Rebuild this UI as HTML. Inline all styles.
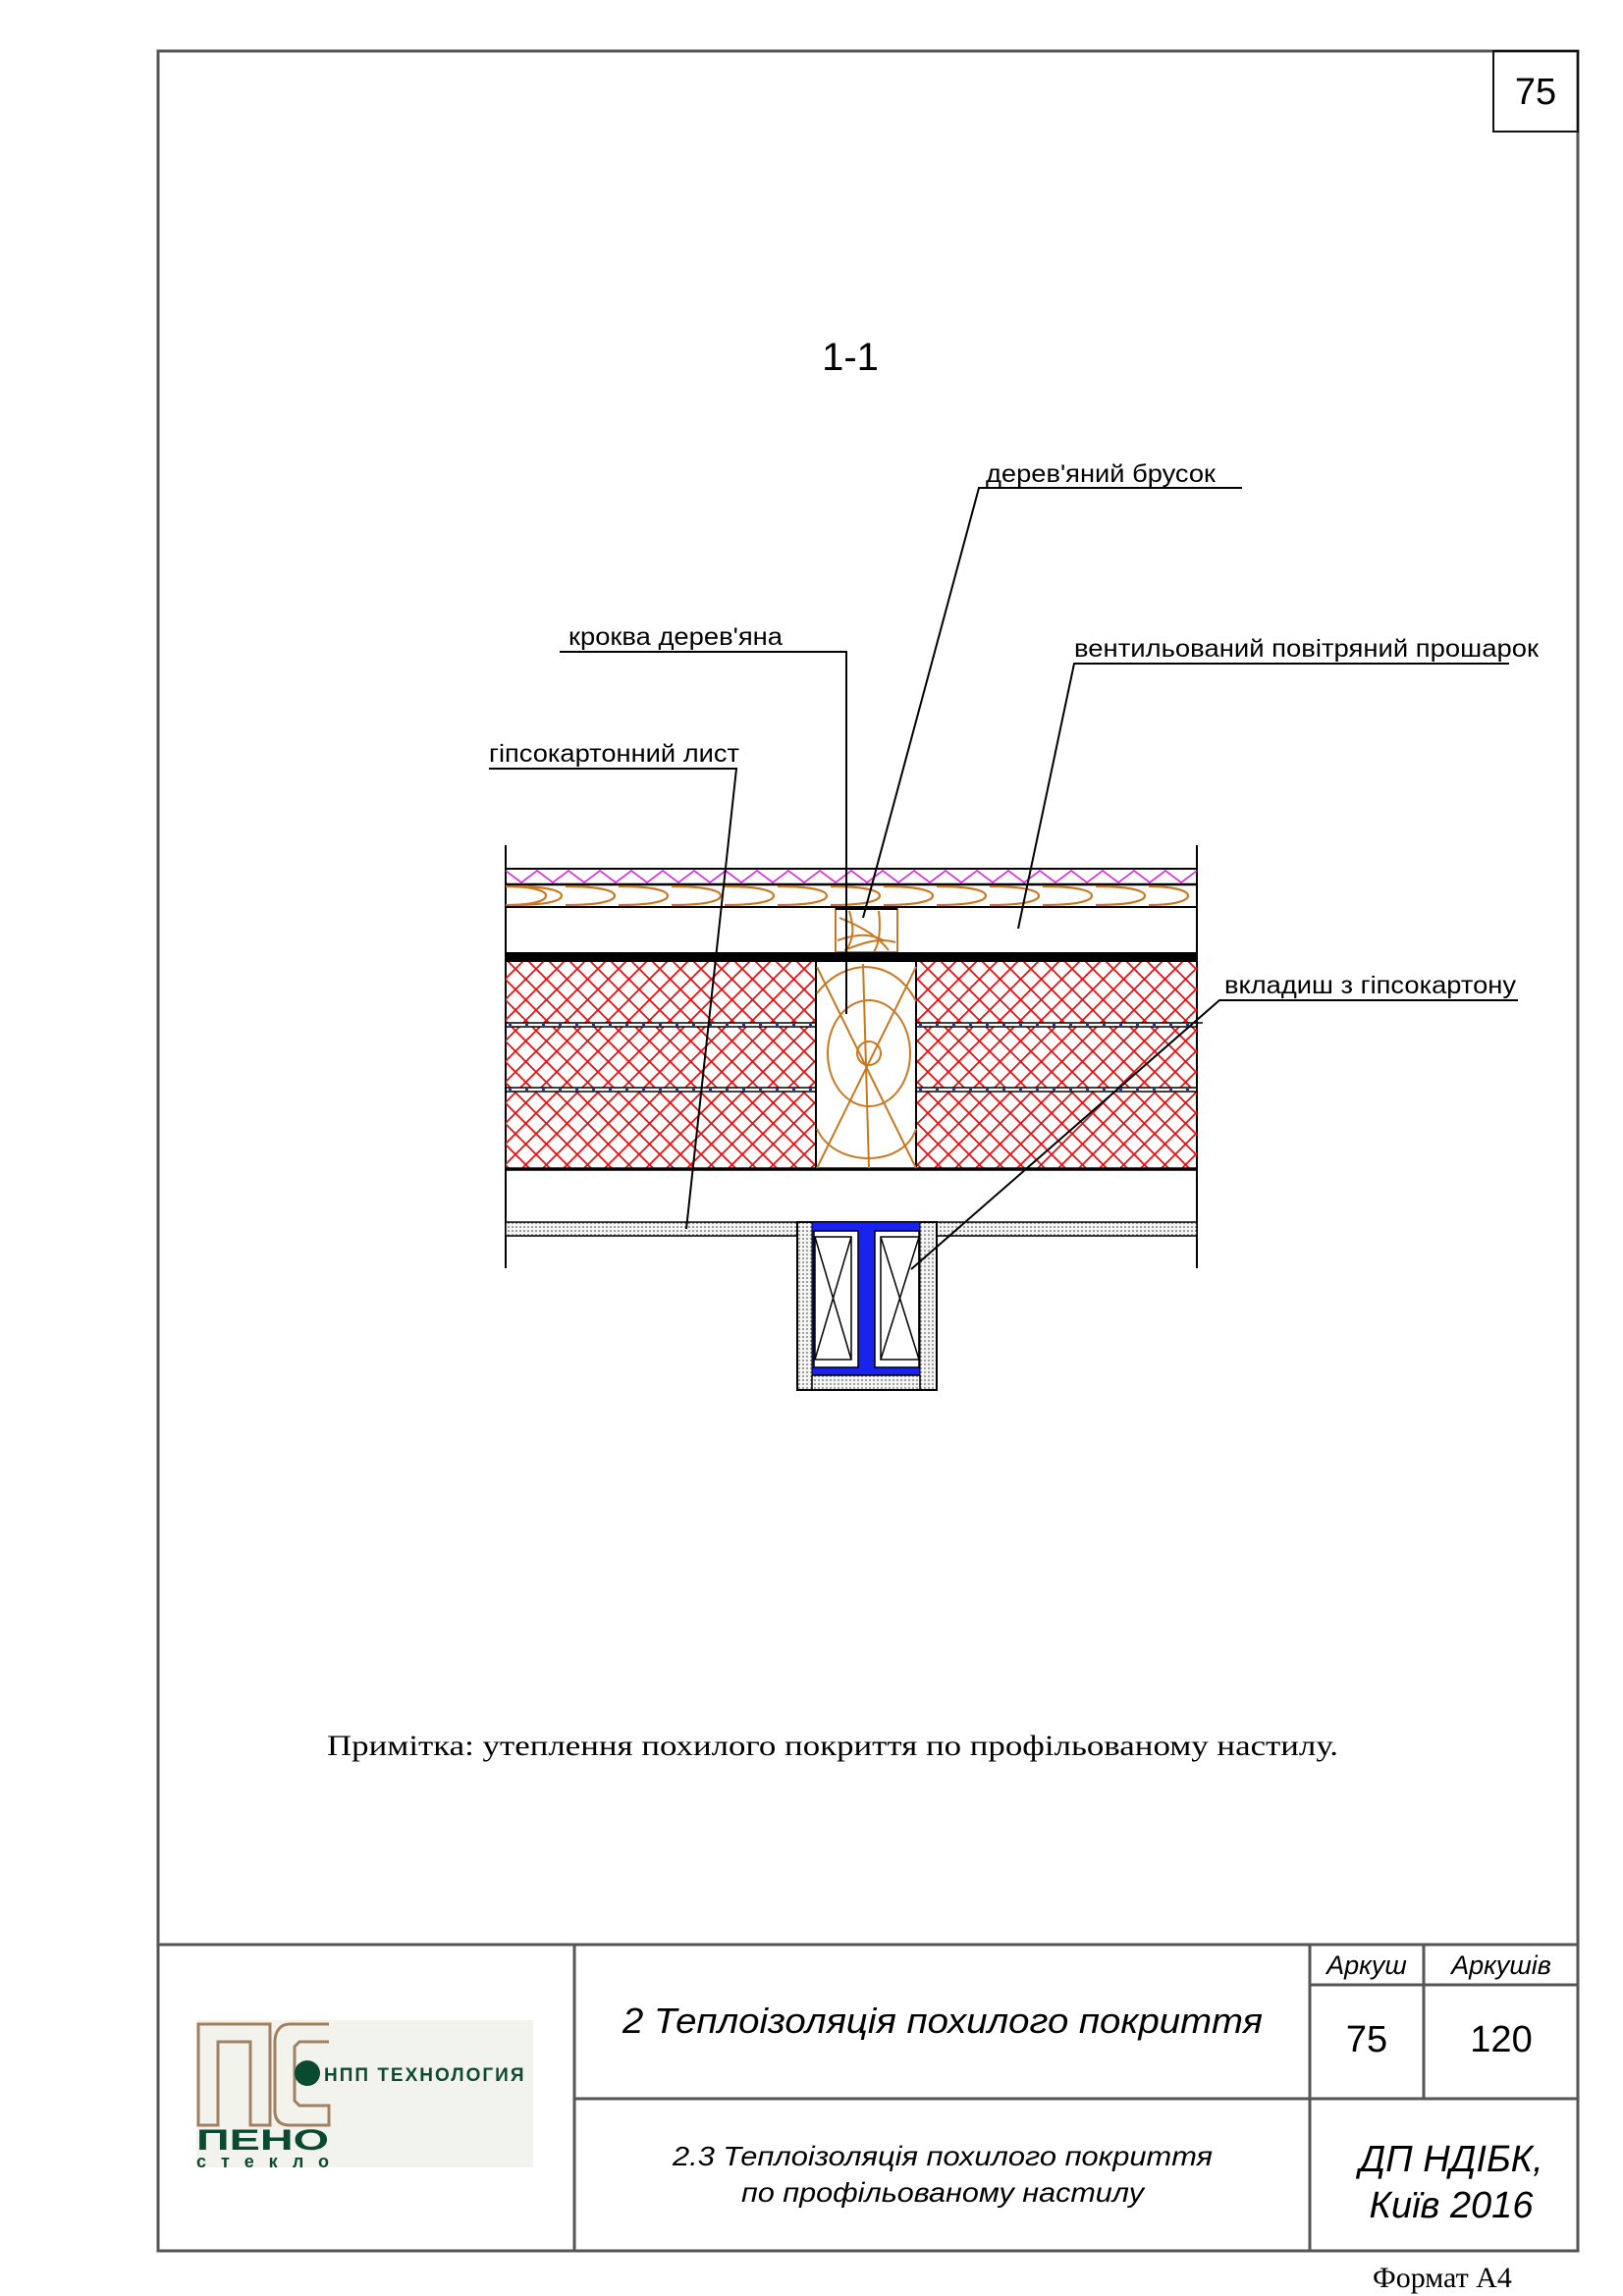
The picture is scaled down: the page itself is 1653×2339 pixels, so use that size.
<!DOCTYPE html>
<html><head><meta charset="utf-8"><style>
html,body{margin:0;padding:0;background:#fff}
svg{display:block}
</style></head><body>
<svg width="1653" height="2339" viewBox="0 0 1653 2339" xmlns="http://www.w3.org/2000/svg" font-family="Liberation Sans, sans-serif">
<defs>
<pattern id="hatch" width="21" height="21" patternUnits="userSpaceOnUse">
<path d="M0,0 L21,21 M21,0 L0,21" stroke="#e81010" stroke-width="1.8"/>
</pattern>
<pattern id="dots" width="4" height="4" patternUnits="userSpaceOnUse">
<rect width="4" height="4" fill="#f4f4f4"/>
<circle cx="2" cy="2" r="0.9" fill="#666"/>
</pattern>
</defs>
<rect width="1653" height="2339" fill="#fff"/>
<rect x="161" y="52" width="1446" height="2241" fill="none" stroke="#555" stroke-width="3"/>
<rect x="1521" y="52" width="86" height="82" fill="none" stroke="#111" stroke-width="2"/>
<text x="1564" y="106" font-size="38" text-anchor="middle">75</text>

<text x="866" y="377" font-size="40" text-anchor="middle">1-1</text>

<g>
<line x1="515" y1="861" x2="515" y2="1292" stroke="#000" stroke-width="2"/>
<line x1="1219" y1="861" x2="1219" y2="1292" stroke="#000" stroke-width="2"/>
<line x1="515" y1="885" x2="1219" y2="885" stroke="#000" stroke-width="2"/>
<path d="M515,887 L531,899 L547,887 L563,899 L579,887 L595,899 L611,887 L627,899 L643,887 L659,899 L675,887 L691,899 L707,887 L723,899 L739,887 L755,899 L771,887 L787,899 L803,887 L819,899 L835,887 L851,899 L867,887 L883,899 L899,887 L915,899 L931,887 L947,899 L963,887 L979,899 L995,887 L1011,899 L1027,887 L1043,899 L1059,887 L1075,899 L1091,887 L1107,899 L1123,887 L1139,899 L1155,887 L1171,899 L1187,887 L1203,899 L1219,887" fill="none" stroke="#dd22dd" stroke-width="1.6"/>
<line x1="515" y1="901" x2="1219" y2="901" stroke="#000" stroke-width="2.5"/>
<g fill="none" stroke="#c87820" stroke-width="2.2">
<path d="M515,903 C545,903 556,908 556,912.5 C556,917 545,922 515,922"/>
<path d="M522,903 C560,903 572,908 572,912.5 C572,917 560,922 522,922"/>
<path d="M576,903 C614,903 626,908 626,912.5 C626,917 614,922 576,922"/>
<path d="M630,903 C668,903 680,908 680,912.5 C680,917 668,922 630,922"/>
<path d="M684,903 C722,903 734,908 734,912.5 C734,917 722,922 684,922"/>
<path d="M738,903 C776,903 788,908 788,912.5 C788,917 776,922 738,922"/>
<path d="M792,903 C830,903 842,908 842,912.5 C842,917 830,922 792,922"/>
<path d="M846,903 C884,903 896,908 896,912.5 C896,917 884,922 846,922"/>
<path d="M900,903 C938,903 950,908 950,912.5 C950,917 938,922 900,922"/>
<path d="M954,903 C992,903 1004,908 1004,912.5 C1004,917 992,922 954,922"/>
<path d="M1008,903 C1046,903 1058,908 1058,912.5 C1058,917 1046,922 1008,922"/>
<path d="M1062,903 C1100,903 1112,908 1112,912.5 C1112,917 1100,922 1062,922"/>
<path d="M1116,903 C1154,903 1166,908 1166,912.5 C1166,917 1154,922 1116,922"/>
<path d="M1170,903 C1198,903 1210,908 1210,912.5 C1210,917 1198,922 1170,922"/>
</g>
<line x1="515" y1="924" x2="1219" y2="924" stroke="#000" stroke-width="2"/>
<g fill="none" stroke="#c87820" stroke-width="2">
<rect x="851" y="926" width="63" height="44"/>
<path d="M853,958 C870,952 885,950 900,958"/>
<path d="M855,935 C880,945 895,955 905,968"/>
<path d="M860,968 C880,960 895,955 912,960"/>
<path d="M895,928 C897,945 896,960 890,970"/>
<path d="M865,928 C870,945 870,955 862,968"/>
</g>
<line x1="851" y1="926" x2="914" y2="926" stroke="#000" stroke-width="2"/>
<rect x="515" y="970" width="704" height="10" fill="#000"/>
<rect x="515" y="980" width="316" height="62" fill="url(#hatch)"/>
<rect x="933" y="980" width="286" height="62" fill="url(#hatch)"/>
<rect x="515" y="1046" width="316" height="62" fill="url(#hatch)"/>
<rect x="933" y="1046" width="286" height="62" fill="url(#hatch)"/>
<rect x="515" y="1112" width="316" height="78" fill="url(#hatch)"/>
<rect x="933" y="1112" width="286" height="78" fill="url(#hatch)"/>
<g stroke="#000" stroke-width="1.5">
<line x1="515" y1="1042" x2="831" y2="1042"/><line x1="515" y1="1046" x2="831" y2="1046"/>
<line x1="933" y1="1042" x2="1225" y2="1042"/><line x1="933" y1="1046" x2="1219" y2="1046"/>
<line x1="515" y1="1108" x2="831" y2="1108"/><line x1="515" y1="1112" x2="831" y2="1112"/>
<line x1="933" y1="1108" x2="1219" y2="1108"/><line x1="933" y1="1112" x2="1219" y2="1112"/>
</g>
<g stroke="#2233aa" stroke-width="2" stroke-dasharray="3 14">
<line x1="518" y1="1044" x2="831" y2="1044"/><line x1="936" y1="1044" x2="1219" y2="1044"/>
<line x1="518" y1="1110" x2="831" y2="1110"/><line x1="936" y1="1110" x2="1219" y2="1110"/>
</g>
<line x1="515" y1="1191" x2="1219" y2="1191" stroke="#000" stroke-width="3.5"/>
<line x1="831" y1="980" x2="831" y2="1190" stroke="#000" stroke-width="2"/>
<line x1="933" y1="980" x2="933" y2="1190" stroke="#000" stroke-width="2"/>
<g fill="none" stroke="#c87820" stroke-width="2">
<ellipse cx="885" cy="1073" rx="42" ry="54"/>
<ellipse cx="885" cy="1073" rx="12" ry="12"/>
<path d="M832,1012 C860,975 910,975 933,1020"/>
<path d="M832,1150 C850,1190 920,1190 933,1150"/>
<line x1="832" y1="985" x2="933" y2="1190"/>
<line x1="933" y1="985" x2="832" y2="1190"/>
<line x1="879" y1="982" x2="885" y2="1190"/>
</g>
<rect x="515" y="1245" width="297" height="14" fill="url(#dots)" stroke="#000" stroke-width="1.5"/>
<rect x="954" y="1245" width="265" height="14" fill="url(#dots)" stroke="#000" stroke-width="1.5"/>
<rect x="812" y="1245" width="142" height="171" fill="url(#dots)" stroke="#000" stroke-width="2"/>
<rect x="827" y="1245" width="110" height="156" fill="#1a22ee" stroke="#000" stroke-width="1"/>
<rect x="829" y="1254" width="45" height="139" fill="#fff" stroke="#000" stroke-width="1.5"/>
<rect x="891" y="1254" width="45" height="139" fill="#fff" stroke="#000" stroke-width="1.5"/>
<line x1="827" y1="1401" x2="937" y2="1401" stroke="#000" stroke-width="1.5"/>
<line x1="827" y1="1401" x2="827" y2="1416" stroke="#000" stroke-width="1.5"/>
<line x1="937" y1="1401" x2="937" y2="1416" stroke="#000" stroke-width="1.5"/>
<g fill="none" stroke="#000" stroke-width="1.5">
<rect x="830" y="1260" width="37" height="125"/>
<line x1="830" y1="1260" x2="867" y2="1385"/><line x1="867" y1="1260" x2="830" y2="1385"/>
<rect x="897" y="1260" width="39" height="125"/>
<line x1="897" y1="1260" x2="936" y2="1385"/><line x1="936" y1="1260" x2="897" y2="1385"/>
</g>
</g>

<g stroke="#000" stroke-width="2" fill="none">
<polyline points="1265,497 997,497 879,935"/>
<polyline points="570,664 862,664 862,1033"/>
<polyline points="1537,676 1094,676 1037,946"/>
<polyline points="498,783 750,783 699,1252"/>
<polyline points="1546,1019 1242,1019 928,1293"/>
</g>
<g font-size="25" fill="#000">
<text x="1004" y="491" textLength="234" lengthAdjust="spacingAndGlyphs">дерев'яний брусок</text>
<text x="579" y="657" textLength="218" lengthAdjust="spacingAndGlyphs">кроква дерев'яна</text>
<text x="1094" y="669" textLength="473" lengthAdjust="spacingAndGlyphs">вентильований повітряний прошарок</text>
<text x="498" y="776" textLength="255" lengthAdjust="spacingAndGlyphs">гіпсокартонний лист</text>
<text x="1247" y="1012" textLength="297" lengthAdjust="spacingAndGlyphs">вкладиш з гіпсокартону</text>
</g>

<text x="333" y="1788" font-family="Liberation Serif, serif" font-size="30" textLength="1030" lengthAdjust="spacingAndGlyphs">Примітка: утеплення похилого покриття по профільованому настилу.</text>

<g stroke="#555" stroke-width="3" fill="none">
<line x1="161" y1="1981" x2="1607" y2="1981"/>
<line x1="585" y1="1981" x2="585" y2="2293"/>
<line x1="1334" y1="1981" x2="1334" y2="2293"/>
<line x1="1450" y1="1981" x2="1450" y2="2138"/>
<line x1="585" y1="2138" x2="1607" y2="2138"/>
<line x1="1334" y1="2022" x2="1607" y2="2022"/>
</g>
<g font-style="italic" fill="#000" text-anchor="middle">
<text x="1392" y="2011" font-size="27">Аркуш</text>
<text x="1529" y="2011" font-size="27">Аркушів</text>
<text x="960" y="2071" font-size="36" textLength="652" lengthAdjust="spacingAndGlyphs">2 Теплоізоляція похилого покриття</text>
<text x="960" y="2206" font-size="28" textLength="550" lengthAdjust="spacingAndGlyphs">2.3 Теплоізоляція похилого покриття</text>
<text x="960" y="2243" font-size="28" textLength="410" lengthAdjust="spacingAndGlyphs">по профільованому настилу</text>
<text x="1478" y="2212" font-size="38">ДП НДІБК,</text>
<text x="1478" y="2259" font-size="38">Київ 2016</text>
</g>
<text x="1392" y="2090" font-size="38" text-anchor="middle">75</text>
<text x="1529" y="2090" font-size="38" text-anchor="middle">120</text>
<text x="1398" y="2330" font-family="Liberation Serif, serif" font-size="30">Формат А4</text>

<rect x="200" y="2058" width="343" height="150" fill="#f3f3ee"/>
<g fill="none" stroke="#a08060" stroke-width="3">
<path d="M202,2062 L275,2062 L275,2165 L255,2165 L255,2080 L222,2080 L222,2165 L202,2165 Z"/>
<path d="M335,2062 L295,2062 C285,2062 280,2070 280,2080 L280,2150 C280,2160 285,2165 295,2165 L335,2165 L335,2145 L305,2145 L300,2140 L300,2085 L305,2080 L335,2080"/>
</g>
<circle cx="313" cy="2112" r="13" fill="#0a4a30"/>
<text x="330" y="2120" font-size="19" font-weight="bold" fill="#0a4a30" letter-spacing="2">НПП ТЕХНОЛОГИЯ</text>
<text x="200" y="2190" font-size="30" font-weight="bold" fill="#0a4a30" textLength="135" lengthAdjust="spacingAndGlyphs">ПЕНО</text>
<text x="200" y="2208" font-size="18" font-weight="bold" fill="#0a4a30" textLength="135" lengthAdjust="spacing">стекло</text>
</svg>
</body></html>
